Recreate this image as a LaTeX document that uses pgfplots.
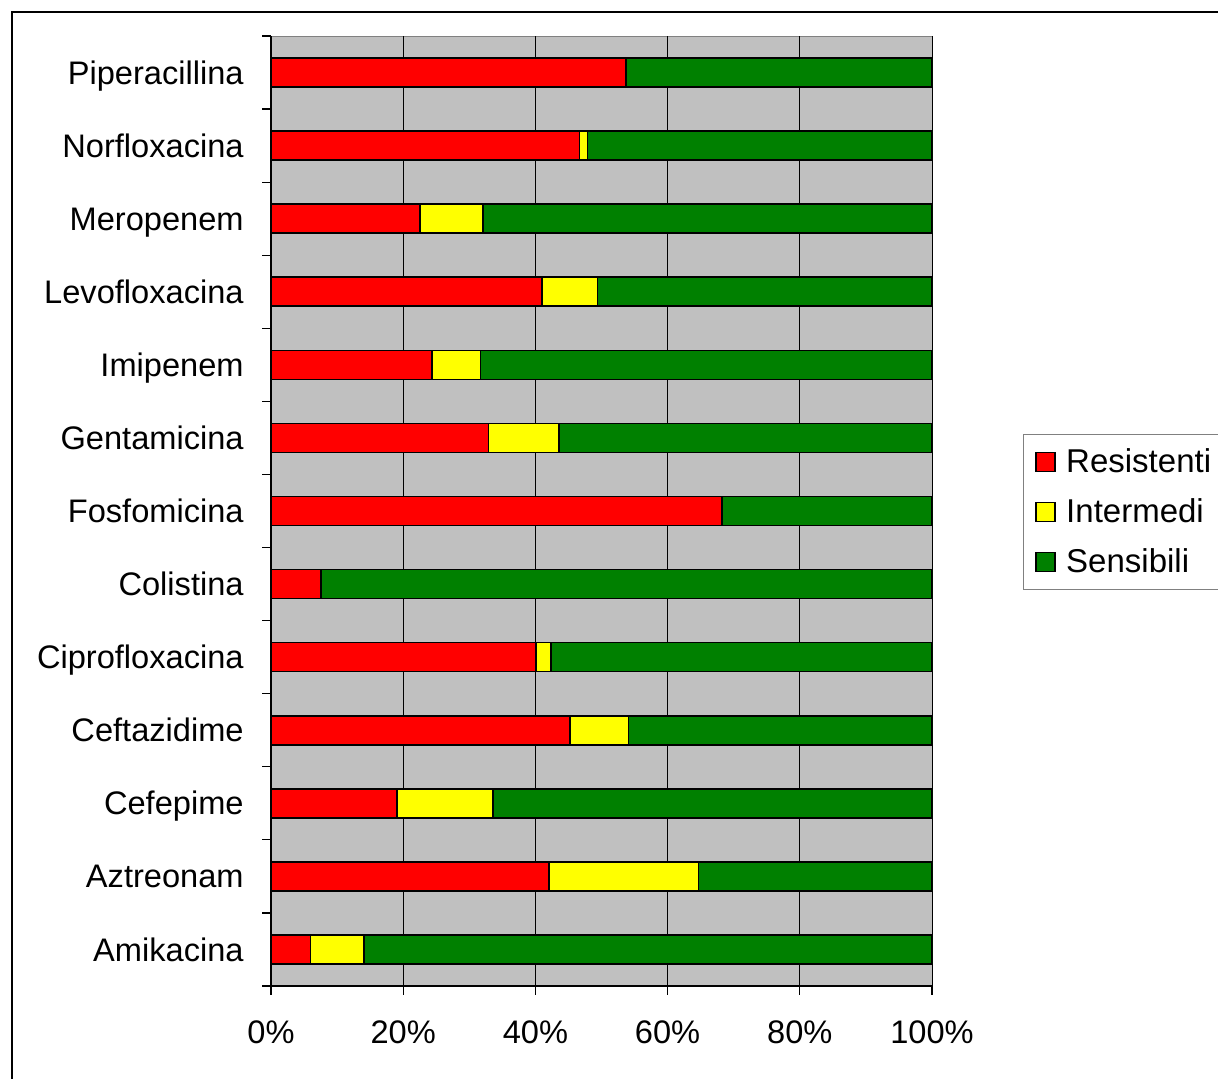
\documentclass[border=0pt]{standalone}
\usepackage{fontspec}
\setmainfont{Liberation Sans}
\usepackage{pgfplots}
\pgfplotsset{compat=1.18}
\definecolor{xlred}{RGB}{255,0,0}
\definecolor{xlyel}{RGB}{255,255,0}
\definecolor{xlgreen}{RGB}{0,128,0}
\definecolor{xlgray}{RGB}{192,192,192}
\definecolor{xlborder}{RGB}{128,128,128}
\begin{document}
\begin{tikzpicture}[x=0.5pt,y=0.5pt]
\useasboundingbox (0,0) rectangle (1218,1079);
\draw[line width=1pt] (12,-10) -- (12,1067) -- (1230,1067);
\coordinate (O) at (271,93);
\begin{axis}[
  at={(O)}, anchor=south west,
  scale only axis, width=330.5pt, height=475pt,
  xbar stacked, bar width=14.5pt,
  xmin=0, xmax=100, ymin=-0.5, ymax=12.5,
  axis background/.style={fill=xlgray, draw=xlborder},
  axis x line*=bottom, axis y line*=left,
  axis line style={black, line width=0.6pt},
  xtick={0,20,40,60,80,100},
  xticklabels={0\%,20\%,40\%,60\%,80\%,100\%},
  ytick={0,...,12},
  yticklabels={Amikacina,Aztreonam,Cefepime,Ceftazidime,Ciprofloxacina,Colistina,Fosfomicina,Gentamicina,Imipenem,Levofloxacina,Meropenem,Norfloxacina,Piperacillina},
  minor ytick={-0.5,0.5,...,12.5},
  tick align=outside, major tick length=4.5pt, minor tick length=4.5pt,
  major y tick style={draw=none},
  minor y tick style={draw=black, line width=0.6pt},
  major x tick style={draw=black, line width=0.6pt},
  xmajorgrids, major grid style={black, line width=0.5pt},
  every tick label/.append style={font=\fontsize{16.3}{19}\selectfont, inner sep=0pt},
  yticklabel style={anchor=base east, xshift=-9pt, yshift=-5.8pt},
  xticklabel style={anchor=north, yshift=-12.5pt},
  legend style={at={(1.1377,0.499)}, anchor=west, draw=xlborder, fill=white,
    font=\fontsize{16.5}{19}\selectfont, inner xsep=6pt, inner ysep=5pt, row sep=7.7pt,
    nodes={inner xsep=5.3pt}},
  legend cell align=left,
  legend image code/.code={\draw[#1, line width=0.6pt] (0pt,-4.75pt) rectangle (9.5pt,4.75pt);},
]
\addplot[fill=xlred, draw=black, line width=0.8pt] coordinates {
(6.0,0) (42.1,1) (19.1,2) (45.2,3) (40.1,4) (7.6,5) (68.2,6) (32.9,7) (24.4,8) (41.0,9) (22.5,10) (46.7,11) (53.7,12)};
\addplot[fill=xlyel, draw=black, line width=0.8pt] coordinates {
(8.1,0) (22.6,1) (14.5,2) (8.9,3) (2.3,4) (0,5) (0,6) (10.7,7) (7.3,8) (8.4,9) (9.6,10) (1.2,11) (0,12)};
\addplot[fill=xlgreen, draw=black, line width=0.8pt] coordinates {
(85.9,0) (35.3,1) (66.4,2) (45.9,3) (57.6,4) (92.4,5) (31.8,6) (56.4,7) (68.3,8) (50.6,9) (67.9,10) (52.1,11) (46.3,12)};
\legend{Resistenti,Intermedi,Sensibili}
\end{axis}
\end{tikzpicture}
\end{document}
